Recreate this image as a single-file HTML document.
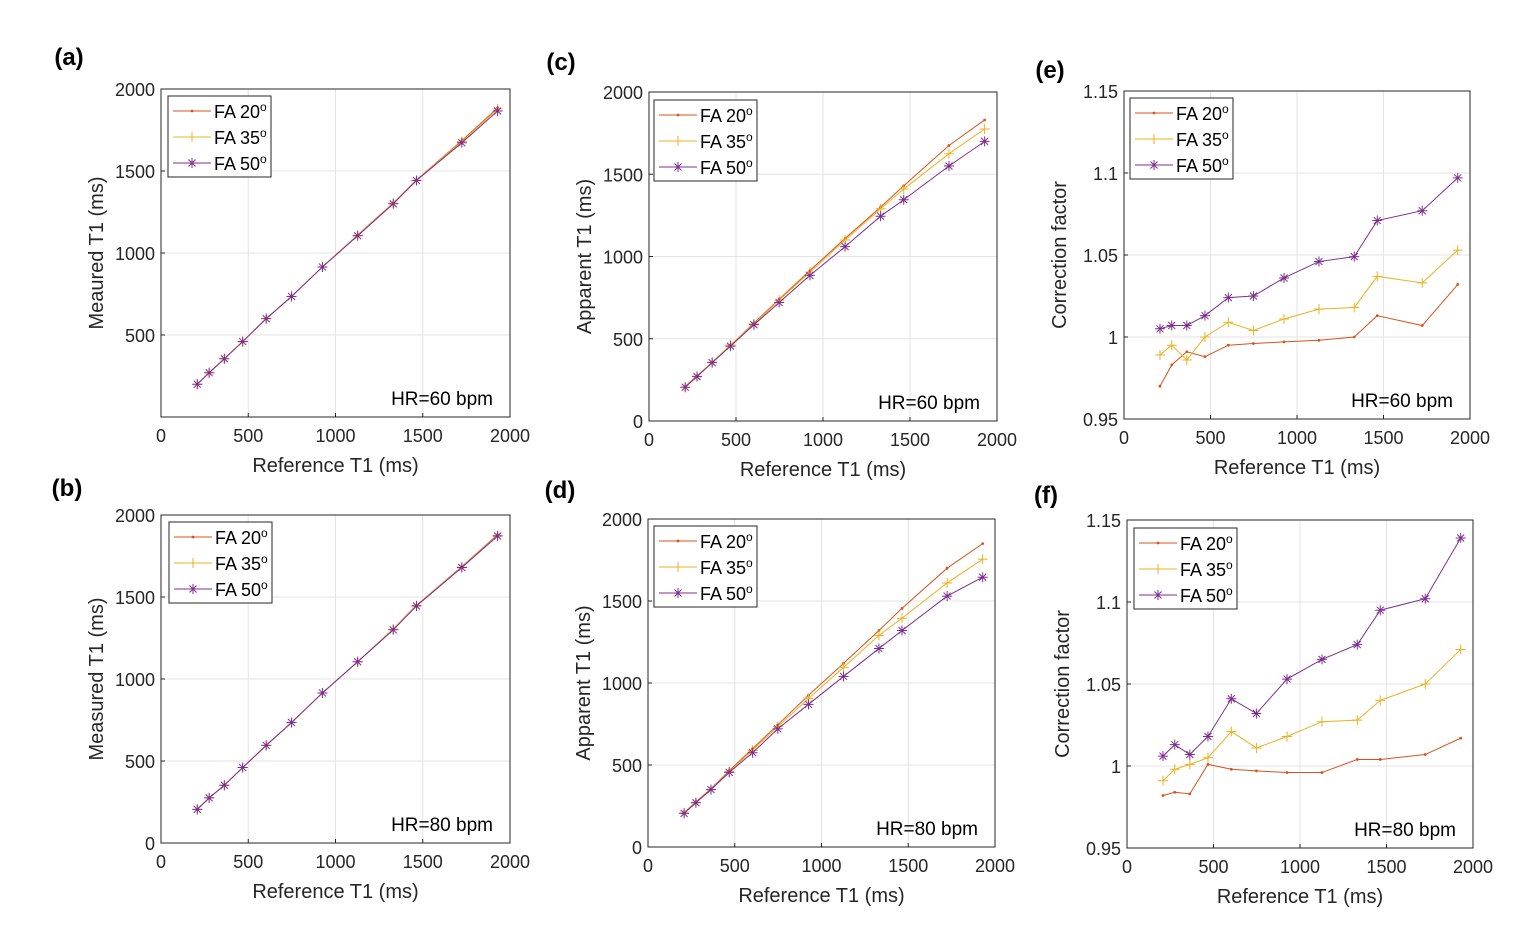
<!DOCTYPE html>
<html><head><meta charset="utf-8"><style>
body{margin:0;background:#fff;width:1532px;height:942px;overflow:hidden}
svg{font-family:"Liberation Sans",Arial,sans-serif}
</style></head><body>
<svg id="fig" width="1532" height="942" xmlns="http://www.w3.org/2000/svg"></svg>
<script>
const refT1 = [208,276,363,468,603,748,925,1127,1331,1464,1724,1929];
const seriesNames = ["FA 20","FA 35","FA 50"];
const aFA20 = [200,270,355,460,600,735,915,1110,1305,1445,1685,1885];
const aFA35 = [200,270,355,458,600,735,915,1108,1303,1443,1680,1878];
const aFA50 = [200,270,355,460,600,735,915,1105,1300,1442,1672,1866];
const bFA20 = [205,275,352,460,595,735,915,1105,1305,1450,1685,1880];
const bFA35 = [205,275,352,460,595,735,915,1105,1303,1448,1682,1876];
const bFA50 = [205,275,352,460,595,735,915,1105,1300,1445,1680,1872];
const cFA20 = [210,275,355,460,595,740,915,1110,1300,1430,1675,1830];
const cFA35 = [205,272,358,462,590,735,905,1100,1290,1410,1625,1775];
const cFA50 = [205,270,355,455,585,720,885,1060,1245,1345,1550,1700];
const dFA20 = [210,275,355,465,600,745,925,1120,1320,1455,1700,1850];
const dFA35 = [208,272,350,460,590,735,905,1095,1290,1395,1610,1755];
const dFA50 = [205,270,350,455,575,720,870,1040,1210,1320,1530,1645];
const eFA20 = [0.970,0.983,0.991,0.988,0.995,0.996,0.997,0.998,1.000,1.013,1.007,1.032];
const eFA35 = [0.989,0.995,0.986,1.000,1.009,1.004,1.011,1.017,1.018,1.037,1.033,1.053];
const eFA50 = [1.005,1.007,1.007,1.013,1.024,1.025,1.036,1.046,1.049,1.071,1.077,1.097];
const fFA20 = [0.982,0.984,0.983,1.001,0.998,0.997,0.996,0.996,1.004,1.004,1.007,1.017];
const fFA35 = [0.991,0.998,1.001,1.005,1.021,1.011,1.018,1.027,1.028,1.040,1.050,1.071];
const fFA50 = [1.006,1.013,1.007,1.018,1.041,1.032,1.053,1.065,1.074,1.095,1.102,1.139];
const xTicks = [0,500,1000,1500,2000];
const t1TicksA = [500,1000,1500,2000];
const t1Ticks = [0,500,1000,1500,2000];
const cfTicks = [0.95,1,1.05,1.1,1.15];
const cfTickLabels = ["0.95","1","1.05","1.1","1.15"];

const NS="http://www.w3.org/2000/svg";
const svg=document.getElementById('fig');
const colors=["#D95319","#EDB120","#7E2F8E"];
function mk(tag,attrs,parent){const e=document.createElementNS(NS,tag);for(const k in attrs)e.setAttribute(k,attrs[k]);(parent||svg).appendChild(e);return e;}
function marker(g,type,x,y,c){
  if(type===0){const m=mk('circle',{cx:x,cy:y,r:1.4,fill:c},g);}
  else if(type===1){const m=mk('path',{d:`M${x-5} ${y}H${x+5}M${x} ${y-5}V${y+5}`,stroke:c,'stroke-width':1,fill:'none'},g);}
  else{const m=mk('path',{d:`M${x-5} ${y}H${x+5}M${x} ${y-5}V${y+5}M${x-3.5} ${y-3.5}L${x+3.5} ${y+3.5}M${x-3.5} ${y+3.5}L${x+3.5} ${y-3.5}`,stroke:c,'stroke-width':1,fill:'none'},g);}
}
function panel(p){
  const g=mk('g',{});
  
  
  const xs=v=>p.L+(v-0)/(2000)*(p.R-p.L);
  const ys=v=>p.B-(v-p.ymin)/(p.ymax-p.ymin)*(p.B-p.T);
  xTicks.forEach(t=>{const x=xs(t);
    if(t>0&&t<2000)mk('line',{x1:x,x2:x,y1:p.T,y2:p.B,stroke:'#e3e3e3'},g);
    mk('line',{x1:x,x2:x,y1:p.B,y2:p.B-4,stroke:'#262626'},g);
    const tl=mk('text',{x:x,y:p.B+25,'text-anchor':'middle','font-size':18,fill:'#262626'},g);tl.textContent=t;
    });
  p.yt.forEach((t,i)=>{const y=ys(t);
    if(Math.abs(y-p.T)>1&&Math.abs(y-p.B)>1)mk('line',{x1:p.L,x2:p.R,y1:y,y2:y,stroke:'#e3e3e3'},g);
    mk('line',{x1:p.L,x2:p.L+4,y1:y,y2:y,stroke:'#262626'},g);
    const tl=mk('text',{x:p.L-6,y:y+7,'text-anchor':'end','font-size':18,fill:'#262626'},g);tl.textContent=p.yl?p.yl[i]:t;
    });
  const box=mk('rect',{x:p.L,y:p.T,width:p.R-p.L,height:p.B-p.T,fill:'none',stroke:'#262626','stroke-width':1},g);
  
  p.data.forEach((arr,si)=>{
    const pts=arr.map((v,i)=>xs(refT1[i])+','+ys(v)).join(' ');
    const pl=mk('polyline',{points:pts,fill:'none',stroke:colors[si],'stroke-width':1},g);
    
    
    arr.forEach((v,i)=>marker(g,si,xs(refT1[i]),ys(v),colors[si]));
  });
  const lg=mk('g',{},g);
  
  mk('rect',{x:p.lx,y:p.ly,width:103,height:81,fill:'#fff',stroke:'#262626'},lg);
  seriesNames.forEach((n,si)=>{const yy=p.ly+15+si*26;
    mk('line',{x1:p.lx+5,x2:p.lx+43,y1:yy,y2:yy,stroke:colors[si]},lg);
    marker(lg,si,p.lx+24,yy,colors[si]);
    const t=mk('text',{x:p.lx+46,y:yy+7,'font-size':18,fill:'#000'},lg);
    
    t.textContent=n;const s=mk('tspan',{dy:-7,'font-size':12},t);s.textContent='o';});
  const hr=mk('text',{x:p.R-17,y:p.B-12,'text-anchor':'end','font-size':19,fill:'#000'},g);hr.textContent=p.hr;
  
  const xl=mk('text',{x:(p.L+p.R)/2,y:p.B+55,'text-anchor':'middle','font-size':20,fill:'#262626'},g);xl.textContent='Reference T1 (ms)';
  
  const yx=p.L-p.yoff, yc=(p.T+p.B)/2;
  const yl=mk('text',{x:yx,y:yc,'text-anchor':'middle','font-size':20,fill:'#262626',transform:`rotate(-90 ${yx} ${yc})`},g);yl.textContent=p.ylab;
  
  const pl=mk('text',{x:p.px,y:p.py,'text-anchor':'middle','font-size':24,'font-weight':'bold',fill:'#000'},g);pl.textContent='('+p.id+')';
  
}
panel({id:'a',L:161,R:510,T:89,B:417,ymin:0,ymax:2000,yt:t1TicksA,data:[aFA20,aFA35,aFA50],lx:168,ly:96,hr:'HR=60 bpm',ylab:'Meaured T1 (ms)',yoff:58,px:69,py:65});
panel({id:'b',L:161,R:510,T:515,B:843,ymin:0,ymax:2000,yt:t1Ticks,data:[bFA20,bFA35,bFA50],lx:169,ly:522,hr:'HR=80 bpm',ylab:'Measured T1 (ms)',yoff:58,px:67,py:496});
panel({id:'c',L:649,R:997,T:92,B:421,ymin:0,ymax:2000,yt:t1Ticks,data:[cFA20,cFA35,cFA50],lx:654,ly:100,hr:'HR=60 bpm',ylab:'Apparent T1 (ms)',yoff:58,px:561,py:70});
panel({id:'d',L:648,R:995,T:519,B:847,ymin:0,ymax:2000,yt:t1Ticks,data:[dFA20,dFA35,dFA50],lx:654,ly:526,hr:'HR=80 bpm',ylab:'Apparent T1 (ms)',yoff:58,px:560,py:498});
panel({id:'e',L:1124,R:1470,T:91,B:419,ymin:0.95,ymax:1.15,yt:cfTicks,yl:cfTickLabels,data:[eFA20,eFA35,eFA50],lx:1130,ly:98,hr:'HR=60 bpm',ylab:'Correction factor',yoff:58,px:1050,py:78});
panel({id:'f',L:1127,R:1473,T:520,B:848,ymin:0.95,ymax:1.15,yt:cfTicks,yl:cfTickLabels,data:[fFA20,fFA35,fFA50],lx:1134,ly:528,hr:'HR=80 bpm',ylab:'Correction factor',yoff:58,px:1046,py:503});
</script>
</body></html>
